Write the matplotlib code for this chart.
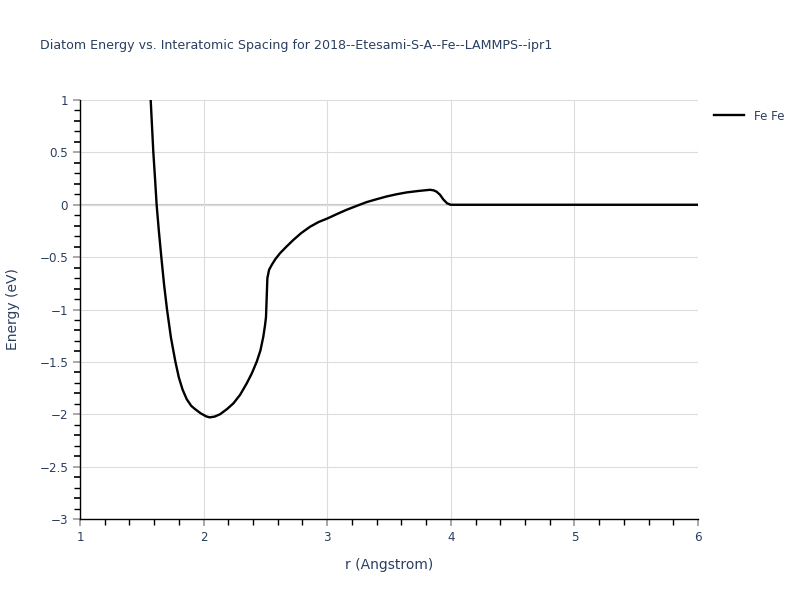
import matplotlib
matplotlib.use("Agg")
import matplotlib.pyplot as plt
from matplotlib.ticker import MultipleLocator, FixedLocator, FuncFormatter

# values
r_vals = [1.572, 1.593, 1.607, 1.620, 1.638, 1.658, 1.680, 1.704, 1.736, 1.772,
          1.800, 1.830, 1.863, 1.900, 1.930, 1.975, 2.020, 2.050, 2.090, 2.133,
          2.190, 2.241, 2.295, 2.349, 2.390, 2.430, 2.460, 2.483, 2.497, 2.505,
          2.510, 2.516, 2.530, 2.551, 2.580, 2.618, 2.670, 2.726, 2.790, 2.861,
          2.930, 3.003, 3.080, 3.157, 3.240, 3.318, 3.400, 3.480, 3.560, 3.643,
          3.740, 3.832, 3.860, 3.885, 3.913, 3.940, 3.970, 4.000, 5.000, 6.000]
energy = [1.000, 0.506, 0.250, 0.000, -0.250, -0.500, -0.760, -1.000, -1.270, -1.500,
          -1.650, -1.765, -1.855, -1.920, -1.950, -1.990, -2.020, -2.030, -2.022, -2.000,
          -1.950, -1.896, -1.815, -1.705, -1.610, -1.498, -1.390, -1.260, -1.150, -1.070,
          -0.900, -0.700, -0.620, -0.575, -0.520, -0.463, -0.400, -0.336, -0.270, -0.210,
          -0.165, -0.130, -0.088, -0.048, -0.010, 0.025, 0.053, 0.079, 0.100, 0.118,
          0.132, 0.143, 0.138, 0.125, 0.095, 0.050, 0.014, 0.000, 0.000, 0.000]
series_name = "Fe Fe"
title = "Diatom Energy vs. Interatomic Spacing for 2018--Etesami-S-A--Fe--LAMMPS--ipr1"

txt = "#2a3f5f"
grid = "#dcdcdc"

fig = plt.figure(figsize=(8, 6), dpi=100)
ax = fig.add_axes([0.1, 0.135, 0.7725, 0.6983])

ax.plot(r_vals, energy, color="black", lw=1.7, label=series_name, zorder=3,
        solid_joinstyle="round")

ax.set_xlim(1, 6)
ax.set_ylim(-3, 1)
ax.xaxis.set_major_locator(MultipleLocator(1))
ax.xaxis.set_minor_locator(MultipleLocator(0.2))
ax.yaxis.set_major_locator(MultipleLocator(0.5))
# minor ticks every 0.1 that are not on a major tick
yminor = [round(-3 + 0.1 * i, 1) for i in range(41)]
yminor = [v for v in yminor if abs(v * 2 - round(v * 2)) > 1e-6]
ax.yaxis.set_minor_locator(FixedLocator(yminor))

fmt = FuncFormatter(lambda v, p: ("%g" % v).replace("-", "\u2212"))
ax.yaxis.set_major_formatter(fmt)
ax.xaxis.set_major_formatter(fmt)

ax.grid(True, which="major", color=grid, lw=0.8, zorder=0)
ax.axhline(0, color="#c8c8c8", lw=1.5, zorder=1)

for s in ["top", "right"]:
    ax.spines[s].set_visible(False)
for s in ["left", "bottom"]:
    ax.spines[s].set_color("black")
    ax.spines[s].set_linewidth(1.0)

ax.tick_params(which="major", length=5, color="#999999", labelsize=8.6,
               labelcolor=txt, width=1.2)
ax.tick_params(which="minor", length=4, color="black", width=1)

# even tenths on the y axis are drawn grey in the reference
for t, v in zip(ax.yaxis.get_minor_ticks(), yminor):
    if round(v * 10) % 2 == 0:
        t.tick1line.set_color("#888888")
        t.tick1line.set_markeredgewidth(1.2)

ax.set_xlabel("r (Angstrom)", fontsize=10, color=txt, labelpad=10)
ax.set_ylabel("Energy (eV)", fontsize=10, color=txt, labelpad=14)

fig.text(0.05, 0.925, title, fontsize=9.1, color=txt, va="center", ha="left")

ax.legend(loc="upper left", bbox_to_anchor=(1.013, 0.997), frameon=False,
          fontsize=8.6, labelcolor=txt, handlelength=2.5, borderaxespad=0.3)

fig.savefig("out.png", dpi=100, facecolor="white")
